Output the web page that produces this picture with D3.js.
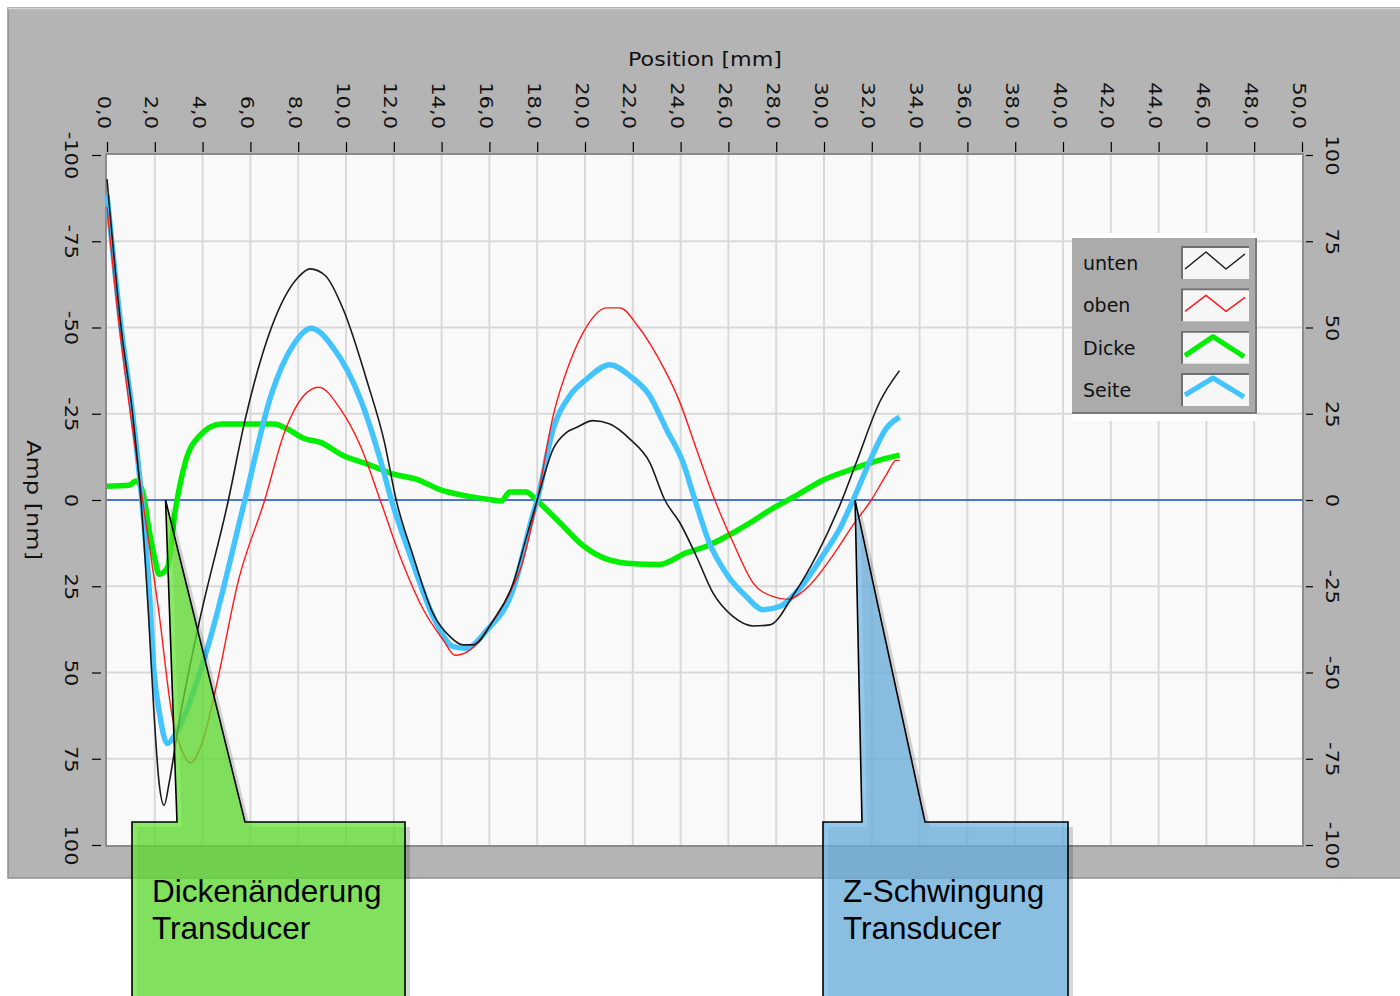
<!DOCTYPE html>
<html>
<head>
<meta charset="utf-8">
<script src="https://cdn.jsdelivr.net/npm/d3@7"></script>
<style>
  body { margin: 0; background: #fff; }
  svg { display: block; }
</style>
</head>
<body>
<script>
const width = 1400;
const height = 996;
const plotLeft = 107;
const plotRight = 1302;
const plotTop = 155;
const plotBottom = 845;

// x positions [mm] and amplitudes [nm] (left axis, positive = down)
const xTicks = d3.range(0, 51, 2);
const yTicks = [-100, -75, -50, -25, 0, 25, 50, 75, 100];

const untenPts = [[0,-93],[0.59,-50],[1.07,-25],[1.42,0],[1.76,36],[1.95,60],[2.18,82],[2.39,88.5],[2.6,82],[3.0,65],[3.84,36],[5.08,0],[5.77,-23],[6.88,-50],[7.99,-64.5],[8.5,-67],[9.14,-65],[9.9,-55],[10.9,-34],[11.6,-17],[12.1,0],[12.8,16],[13.65,33],[14.35,39.6],[14.9,42],[15.3,42],[16.15,35],[17.0,24],[17.5,12],[18.0,0],[18.67,-14.8],[19.23,-19.6],[19.64,-21],[20.34,-23],[21.04,-22],[21.87,-17.7],[22.7,-11],[23.34,0],[23.97,6.6],[24.66,16.3],[25.36,27],[26.2,33.8],[27.05,36.5],[27.73,36.2],[28.73,27.4],[29.7,15.9],[30.67,1.4],[31.36,-11],[32.33,-28.4],[33.16,-37.5]];

const obenPts = [[0,-85],[0.52,-50],[1.0,-24],[1.49,0],[2.18,33],[2.73,62.7],[3.1,72],[3.49,76.2],[4.0,70],[4.53,55.3],[5.5,23.3],[6.6,0],[7.43,-19.7],[8.2,-30],[8.86,-32.7],[9.76,-26.4],[10.6,-15.7],[11.43,0],[12.26,16.3],[13.24,31.8],[14.07,40.6],[14.56,45],[15.18,43.5],[16.0,36.7],[16.99,25],[17.3,20],[18,0],[18.67,-24.5],[19.37,-40],[20.06,-50.2],[20.9,-55.7],[21.46,-55.7],[22.2,-50.5],[23.0,-42],[23.97,-28.3],[24.66,-14.8],[25.43,0],[26.2,12.4],[27.03,24],[27.87,28],[28.5,28.8],[29.28,25.5],[30.39,15.9],[31.22,7.2],[31.98,0],[32.6,-7.2],[33.02,-11.5],[33.16,-11.5]];

const seitePts = [[0,-88.5],[0.59,-50],[1.07,-25],[1.46,0],[1.76,25],[1.97,50],[2.2,62],[2.52,70.6],[2.85,68],[3.15,64],[4.25,41.8],[5.77,0],[6.88,-30.7],[7.8,-45],[8.54,-49.8],[9.49,-43.9],[10.6,-29.3],[11.43,-11.8],[11.9,0],[12.7,16.3],[13.65,33.8],[14.49,42.5],[15.04,43],[15.9,37.7],[16.99,26],[17.8,4.7],[18.0,0],[18.67,-20.6],[19.37,-30.3],[20.06,-35],[21.04,-39.2],[21.87,-36],[22.7,-30.3],[23.4,-20.6],[24.1,-10.9],[24.6,0],[25.2,12.4],[25.9,21.2],[26.75,28],[27.45,31.8],[28.17,30.8],[29.0,25.5],[29.97,15.9],[30.67,8.2],[31.22,0],[31.9,-11],[32.6,-20.7],[33.16,-24]];

const dickePts = [[0,-4],[0.93,-4.3],[1.21,-5.5],[1.49,-2.5],[1.76,8.6],[2.0,17],[2.18,21.5],[2.52,19.7],[2.87,2.5],[3.28,-11],[3.84,-18.4],[4.8,-22],[5.9,-22],[7.02,-22],[7.43,-21],[8.26,-17.8],[8.93,-16.7],[9.9,-12.8],[10.9,-10.4],[11.99,-7.5],[12.96,-6],[13.9,-3.1],[15.04,-1.2],[16.15,0],[16.5,0.3],[16.85,-2.3],[17.54,-2.3],[17.96,0],[18.95,6.6],[19.78,12.4],[20.62,16.3],[21.73,18.3],[23.13,18.7],[24.24,15.3],[25.08,13.4],[26.2,9.5],[27.03,6.1],[27.62,3.4],[28.87,-1.4],[29.97,-5.8],[31.07,-8.7],[32.04,-11],[33.16,-13]];

const seriesNames = ["unten", "oben", "Dicke", "Seite"];
const seriesColors = ["#1a1a1a", "#ff1a1a", "#00ee00", "#44c4ff"];
const seriesWidths = [1.6, 1.4, 5.5, 5.5];

const svg = d3.select("body").append("svg")
  .attr("width", width)
  .attr("height", height);

const x = d3.scaleLinear().domain([0, 50]).range([plotLeft, plotRight]);
const yLeft = d3.scaleLinear().domain([-100, 100]).range([plotTop, plotBottom]);
const yRight = d3.scaleLinear().domain([100, -100]).range([plotTop, plotBottom]);

// gray LabVIEW panel
svg.append("rect")
  .attr("x", 8).attr("y", 8).attr("width", 1400).attr("height", 870)
  .attr("fill", "#b4b4b4")
  .attr("stroke", "#8f8f8f").attr("stroke-width", 1.5);
svg.append("line")
  .attr("x1", 8).attr("x2", 1400).attr("y1", 8.5).attr("y2", 8.5)
  .attr("stroke", "#d4d4d4").attr("stroke-width", 1.5);

// plot area
svg.append("rect")
  .attr("x", plotLeft).attr("y", plotTop)
  .attr("width", plotRight - plotLeft).attr("height", plotBottom - plotTop)
  .attr("fill", "#f9f9f9");

const grid = svg.append("g").attr("stroke", "#d9d9d9").attr("stroke-width", 2);
grid.selectAll("line.v").data(xTicks.slice(1, -1)).join("line")
  .attr("class", "v")
  .attr("x1", (d) => x(d)).attr("x2", (d) => x(d))
  .attr("y1", plotTop).attr("y2", plotBottom);
grid.selectAll("line.h").data(yTicks.slice(1, -1)).join("line")
  .attr("class", "h")
  .attr("x1", plotLeft).attr("x2", plotRight)
  .attr("y1", (d) => yLeft(d)).attr("y2", (d) => yLeft(d));

svg.append("rect")
  .attr("x", plotLeft - 1).attr("y", plotTop - 1)
  .attr("width", plotRight - plotLeft + 2).attr("height", plotBottom - plotTop + 2)
  .attr("fill", "none")
  .attr("stroke", "#8a8a8a").attr("stroke-width", 2);

// zero line
svg.append("line")
  .attr("x1", plotLeft).attr("x2", plotRight)
  .attr("y1", yLeft(0)).attr("y2", yLeft(0))
  .attr("stroke", "#1e4fd8").attr("stroke-width", 1.6);

// axes
const fmtX = (d) => d.toFixed(1).replace(".", ",");
const fmtY = (d) => String(d).replace("\u2212", "-");

function styleAxis(g) {
  g.select(".domain").remove();
  g.selectAll(".tick line").attr("stroke", "#000").attr("stroke-width", 1.2);
  g.selectAll(".tick text")
    .attr("x", null).attr("y", null).attr("dy", null)
    .attr("fill", "#111")
    .attr("font-family", "DejaVu Sans, sans-serif")
    .attr("font-size", 17.5);
}

svg.append("g")
  .attr("transform", `translate(0,152)`)
  .call(d3.axisTop(x).tickValues(xTicks).tickFormat(fmtX).tickSize(10))
  .call(styleAxis)
  .call((g) => g.selectAll(".tick text")
    .attr("text-anchor", "end")
    .attr("transform", "translate(-10,-23) rotate(90) scale(1.2,1)"));

svg.append("g")
  .attr("transform", `translate(101,0)`)
  .call(d3.axisLeft(yLeft).tickValues(yTicks).tickFormat(fmtY).tickSize(9))
  .call(styleAxis)
  .call((g) => g.selectAll(".tick text")
    .attr("text-anchor", "middle")
    .attr("transform", "translate(-36,0) rotate(90) scale(1.2,1)"));

svg.append("g")
  .attr("transform", `translate(1306,0)`)
  .call(d3.axisRight(yRight).tickValues(yTicks).tickFormat(fmtY).tickSize(7))
  .call(styleAxis)
  .call((g) => g.selectAll(".tick text")
    .attr("text-anchor", "middle")
    .attr("transform", "translate(20,0) rotate(90) scale(1.2,1)"));

svg.append("text")
  .attr("x", 705).attr("y", 66)
  .attr("text-anchor", "middle")
  .attr("font-family", "DejaVu Sans, sans-serif")
  .attr("font-size", 20)
  .attr("textLength", 154).attr("lengthAdjust", "spacingAndGlyphs")
  .attr("fill", "#111")
  .text("Position [mm]");

svg.append("text")
  .attr("transform", "translate(27,500) rotate(90)")
  .attr("text-anchor", "middle")
  .attr("font-family", "DejaVu Sans, sans-serif")
  .attr("font-size", 20)
  .attr("textLength", 120).attr("lengthAdjust", "spacingAndGlyphs")
  .attr("fill", "#111")
  .text("Amp [nm]");

// curves
const line = d3.line()
  .x((d) => x(d[0]))
  .y((d) => yLeft(d[1]))
  .curve(d3.curveMonotoneX);

const allSeries = [untenPts, obenPts, dickePts, seitePts];
const drawOrder = [2, 3, 1, 0];
svg.append("g")
  .attr("fill", "none")
  .attr("stroke-linejoin", "round")
  .selectAll("path")
  .data(drawOrder)
  .join("path")
  .attr("d", (i) => line(allSeries[i]))
  .attr("stroke", (i) => seriesColors[i])
  .attr("stroke-width", (i) => seriesWidths[i]);

// legend
const legend = svg.append("g");
legend.append("rect")
  .attr("x", 1072).attr("y", 233).attr("width", 185).attr("height", 188)
  .attr("fill", "#ffffff");
legend.append("rect")
  .attr("x", 1072).attr("y", 238).attr("width", 184).attr("height", 175)
  .attr("fill", "#ababab");
legend.append("path")
  .attr("d", "M1072,413 H1256 V238")
  .attr("fill", "none").attr("stroke", "#7a7a7a").attr("stroke-width", 2);

const swatchShapes = [
  [[4, 23], [25, 6], [45, 23], [64, 8]],
  [[4, 23], [25, 7], [45, 23], [64, 9]],
  [[4, 25], [32, 6], [63, 26]],
  [[4, 22], [32, 5], [63, 24]],
];
const rowY = d3.scaleLinear().domain([0, 3]).range([246, 373]);
const row = legend.selectAll("g.row").data(seriesNames).join("g")
  .attr("class", "row")
  .attr("transform", (d, i) => `translate(0,${rowY(i)})`);
row.append("text")
  .attr("x", 1083).attr("y", 24)
  .attr("font-family", "DejaVu Sans, sans-serif")
  .attr("font-size", 19)
  .attr("fill", "#111")
  .text((d) => d);
row.append("rect")
  .attr("x", 1181).attr("y", 0).attr("width", 68).attr("height", 33)
  .attr("fill", "#f6f6f6");
row.append("path")
  .attr("d", "M1182,33 V1 H1249")
  .attr("fill", "none").attr("stroke", "#6e6e6e").attr("stroke-width", 2);
row.append("path")
  .attr("d", (d, i) => d3.line()(swatchShapes[i].map((p) => [1181 + p[0], p[1]])))
  .attr("fill", "none")
  .attr("stroke-linejoin", "round")
  .attr("stroke", (d, i) => seriesColors[i])
  .attr("stroke-width", (d, i) => (i < 2 ? 1.4 : 5));

// callouts
const callouts = [
  { tip: [2.45, 0], left: 132, right: 405, baseL: 177, baseR: 245, fill: "rgba(98,226,50,0.74)", lines: ["Dickenänderung", "Transducer"] },
  { tip: [31.3, 0], left: 823, right: 1068, baseL: 862, baseR: 925, fill: "rgba(110,182,228,0.74)", lines: ["Z-Schwingung", "Transducer"] },
];
const calloutTop = 822;
function calloutPath(c, dx, dy) {
  const tx = x(c.tip[0]) + dx;
  const ty = yLeft(c.tip[1]) + dy;
  return `M${c.left + dx},1010 V${calloutTop + dy} H${c.baseL + dx} L${tx},${ty} L${c.baseR + dx},${calloutTop + dy} H${c.right + dx} V1010`;
}
const co = svg.selectAll("g.callout").data(callouts).join("g").attr("class", "callout");
co.append("path")
  .attr("d", (c) => calloutPath(c, 5, 5))
  .attr("fill", "rgba(0,0,0,0.16)");
co.append("path")
  .attr("d", (c) => calloutPath(c, 0, 0))
  .attr("fill", (c) => c.fill)
  .attr("stroke", "#000").attr("stroke-width", 1.6)
  .attr("stroke-linejoin", "miter");
co.selectAll("text").data((c) => c.lines.map((t, i) => ({ t, i, x: c.left + 20 }))).join("text")
  .attr("x", (d) => d.x)
  .attr("y", (d) => 902 + d.i * 37)
  .attr("font-family", "Liberation Sans, Arial, sans-serif")
  .attr("font-size", 31.5)
  .attr("fill", "#000")
  .text((d) => d.t);
</script>
</body>
</html>
